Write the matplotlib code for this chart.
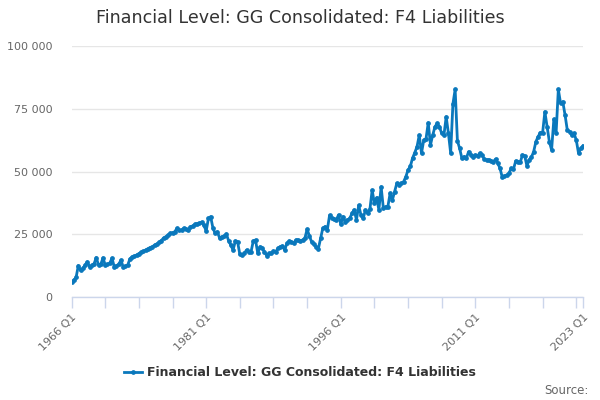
import matplotlib
matplotlib.use("Agg")
import matplotlib.pyplot as plt
from matplotlib.lines import Line2D
from matplotlib.ticker import FuncFormatter, FixedLocator

title = "Financial Level: GG Consolidated: F4 Liabilities"
series_name = "Financial Level: GG Consolidated: F4 Liabilities"

start_year = 1966
values = [
    6100, 6700, 7800, 12500, 10600, 11400, 12700, 14000, 12100, 12600,
    13200, 15700, 12700, 13000, 15600, 12700, 13000, 13400, 15500, 12100,
    12500, 13000, 14700, 12000, 12300, 12700, 15200, 16000, 16300, 16700,
    17300, 17800, 18200, 18700, 19200, 19700, 20000, 20700, 21100, 21800,
    22500, 23500, 24000, 24700, 25400, 25600, 26000, 27400, 26700, 26700,
    27400, 27000, 26700, 28000, 28300, 29000, 29200, 29400, 29800, 28500,
    26300, 31300, 32000, 27500, 25400, 26000, 23400, 24000, 24300, 25100,
    22400, 20700, 18700, 22300, 22000, 17000, 16700, 17400, 18700, 18000,
    18000, 22300, 22700, 17400, 20000, 19400, 18000, 16500, 17400, 17400,
    18300, 18000, 19400, 20000, 20300, 18700, 21400, 22300, 22000, 21400,
    22700, 22700, 22300, 22700, 23400, 27000, 24400, 22000, 21000, 20000,
    19200, 23400, 27400, 28000, 26700, 32500, 31300, 31100, 30700, 32700,
    29000, 32000, 30000, 30700, 31300, 33300, 34700, 30700, 36500, 32700,
    31300, 34700, 33300, 35000, 42600, 37300, 39600, 34700, 43900, 35300,
    36000, 36000, 41300, 38600, 42000, 45300, 44600, 45300, 45900, 47900,
    50600, 52000, 55300, 57500, 59900, 64500, 57300, 62500, 63000, 69400,
    60600, 64500, 67800, 69200, 67800, 65200, 64500, 71800, 65200, 57300,
    76900, 82700, 62300, 59200, 55300, 55900, 55300, 57900, 56600, 55900,
    56600, 56200, 57300, 56600, 54900, 54600, 54600, 54200, 53900, 54900,
    53300, 51300, 47700, 48200, 48500, 49300, 51300, 50900, 54200, 53900,
    53600, 56600, 56200, 52200, 54600, 55700, 57900, 61900, 63900, 65500,
    65500, 73800, 67800, 61900, 58600, 70800, 65200, 82700, 77200, 77800,
    72500, 66500, 65900, 64500, 65200, 62500, 57300, 59200, 60200,
]
categories = [f"{start_year + k // 4} Q{k % 4 + 1}" for k in range(len(values))]
y_ticks = [0, 25000, 50000, 75000, 100000]
x_label_cats = ["1966 Q1", "1981 Q1", "1996 Q1", "2011 Q1", "2023 Q1"]

color = "#0a78bc"
plt.rcParams['font.family'] = ['DejaVu Sans']

fig = plt.figure(figsize=(6, 4), dpi=100)
ax = fig.add_axes([71.6/600, 1-297/400, (583-71.6)/600, (297-46)/400])

xs = list(range(len(values)))
ax.plot(xs, values, color=color, lw=2, marker='o', ms=2.4, mec=color, mfc=color, zorder=3)

ax.set_xlim(0, len(values)-1)
ax.set_ylim(0, 100000)
ax.yaxis.set_major_locator(FixedLocator(y_ticks))
ax.yaxis.set_major_formatter(FuncFormatter(lambda v, p: f"{int(v):,}".replace(",", " ")))
ax.grid(axis='y', color='#e6e6e6', lw=1)
ax.set_axisbelow(True)
for s in ['top', 'right', 'left']:
    ax.spines[s].set_visible(False)
ax.spines['bottom'].set_color('#ccd6eb')
ax.spines['bottom'].set_linewidth(1)
ax.tick_params(axis='y', length=0, labelsize=8, labelcolor='#666666', pad=14)

last = len(values) - 1
minor = [k for k in range(0, last, 15)] + [last]
ax.set_xticks(minor)
ax.set_xticklabels([categories[k] if categories[k] in x_label_cats else "" for k in minor],
                   rotation=45, ha='right', rotation_mode='anchor')
ax.tick_params(axis='x', length=8, color='#ccd6eb', width=1, labelsize=8, labelcolor='#666666', pad=3)

fig.text(0.5, 1-18/400, title, ha='center', va='center', fontsize=12.6, color='#333333')

handle = Line2D([0], [0], color=color, lw=2, marker='o', ms=2.4)
leg = fig.legend([handle], [series_name], loc='center', bbox_to_anchor=(0.5, 1-373/400),
                 frameon=False, handlelength=1.4, handletextpad=0.4,
                 prop={'weight': 'bold', 'size': 9})
for t in leg.get_texts():
    t.set_color('#333333')

fig.text(589/600, 1-390/400, "Source:", ha='right', va='center', fontsize=8.5, color='#666666')

fig.savefig("out.png", dpi=100)
